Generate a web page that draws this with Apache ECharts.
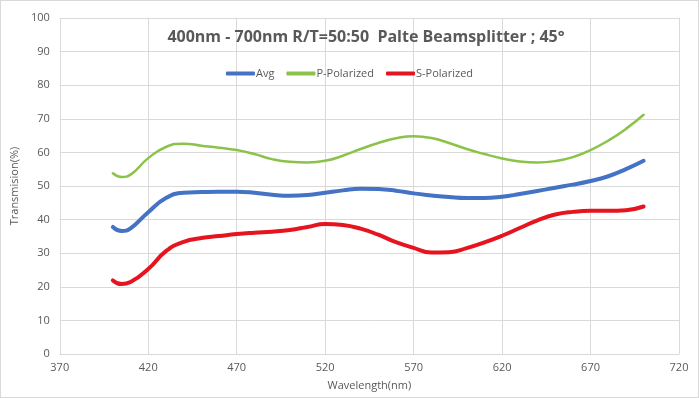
<!DOCTYPE html>
<html>
<head>
<meta charset="utf-8">
<script src="https://cdn.jsdelivr.net/npm/echarts@6/dist/echarts.min.js"></script>
<style>
  html, body { margin: 0; padding: 0; background: #fff; }
  #chart { width: 699px; height: 398px; box-sizing: border-box; border: 1px solid #d9d9d9; }
</style>
</head>
<body>
<div id="chart"></div>
<script>
// wavelength (nm)
const wavelengths = [400, 405, 410, 420, 430, 440, 450, 460, 470, 480, 490, 500, 510, 520, 530, 540,
  550, 560, 570, 580, 590, 600, 610, 620, 630, 640, 650, 660, 670, 680, 690, 700];
const avgValues = [37.8, 36.6, 37.4, 42.2, 46.4, 48.0, 48.2, 48.3, 48.3, 48.0, 47.4, 47.1, 47.3, 48.0, 48.7, 49.2,
  49.1, 48.6, 47.8, 47.2, 46.7, 46.4, 46.4, 46.8, 47.6, 48.5, 49.5, 50.4, 51.5, 52.9, 55.0, 57.5];
const pValues = [53.8, 52.7, 53.4, 58.3, 61.6, 62.6, 62.0, 61.4, 60.7, 59.5, 58.0, 57.2, 57.0, 57.5, 59.0, 61.0,
  62.8, 64.2, 64.8, 64.3, 62.8, 61.0, 59.5, 58.2, 57.3, 57.0, 57.4, 58.6, 60.7, 63.5, 67.0, 71.2];
const sValues = [21.9, 20.8, 21.4, 25.3, 30.6, 33.4, 34.5, 35.1, 35.7, 36.1, 36.4, 36.9, 37.8, 38.7, 38.4, 37.3,
  35.5, 33.3, 31.6, 30.2, 30.3, 31.5, 33.2, 35.2, 37.5, 39.8, 41.5, 42.3, 42.6, 42.6, 42.8, 43.9];

const font = '"Liberation Sans Narrow", "Open Sans", sans-serif';
const pair = arr => wavelengths.map((w, i) => [w, arr[i]]);

const chart = echarts.init(document.getElementById('chart'));

function mkSeries(name, data, color, width) {
  return {
    name: name,
    type: 'line',
    data: pair(data),
    smooth: 0.5,
    symbol: 'none',
    lineStyle: { color: color, width: width, cap: 'round' },
    itemStyle: { color: color }
  };
}

chart.setOption({
  animation: false,
  textStyle: { fontFamily: font },
  title: {
    text: '400nm - 700nm R/T=50:50  Palte Beamsplitter ; 45°',
    left: 360,
    textAlign: 'center',
    top: 23,
    textStyle: { fontSize: 16, fontWeight: 'bold', color: '#595959', fontFamily: font }
  },
  legend: {
    top: 62,
    left: 'center',
    itemWidth: 29,
    itemHeight: 4,
    itemGap: 12,
    icon: 'roundRect',
    textStyle: { color: '#595959', fontSize: 11, padding: [0, 0, 0, -4] },
    data: ['Avg', 'P-Polarized', 'S-Polarized']
  },
  grid: { left: 49, right: 19, top: 17, bottom: 43 },
  xAxis: {
    type: 'value',
    min: 370,
    max: 720,
    interval: 50,
    name: 'Wavelength(nm)',
    nameLocation: 'middle',
    nameGap: 26,
    nameTextStyle: { color: '#595959', fontSize: 11 },
    axisLine: { show: true, lineStyle: { color: '#d9d9d9' } },
    axisTick: { show: false },
    axisLabel: { color: '#595959', fontSize: 11, margin: 8 },
    splitLine: { show: true, lineStyle: { color: '#d9d9d9' } }
  },
  yAxis: {
    type: 'value',
    min: 0,
    max: 100,
    interval: 10,
    name: 'Transmision(%)',
    nameLocation: 'middle',
    nameGap: 31,
    nameTextStyle: { color: '#595959', fontSize: 11 },
    axisLine: { show: false },
    axisTick: { show: false },
    axisLabel: { color: '#595959', fontSize: 11, margin: 10 },
    splitLine: { show: true, lineStyle: { color: '#d9d9d9' } }
  },
  series: [
    mkSeries('Avg', avgValues, '#4472c4', 4),
    mkSeries('P-Polarized', pValues, '#8bc34a', 2.5),
    mkSeries('S-Polarized', sValues, '#e6141e', 4)
  ]
});
</script>
</body>
</html>
